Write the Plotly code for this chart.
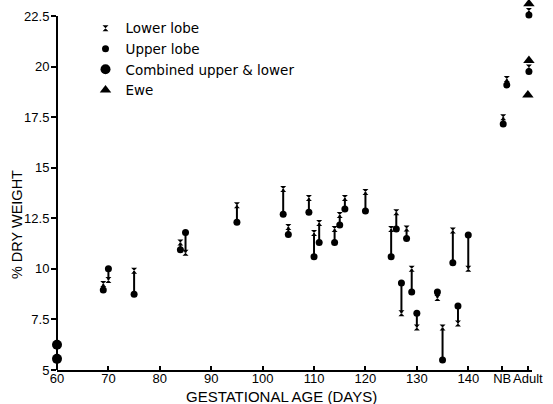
import plotly.graph_objects as go

# ---------------- data ----------------
days = [69, 70, 75, 84, 85, 95, 104, 105, 109, 110, 111, 114, 115, 116, 120,
        125, 126, 127, 128, 129, 130, 134, 135, 137, 138, 140]
lower_lobe = [9.25, 9.45, 9.9, 11.3, 10.8, 13.15, 13.95, 12.07, 13.5, 11.77, 12.27,
              11.97, 12.66, 13.5, 13.8, 11.97, 12.8, 7.8, 12.0, 10.0, 7.1, 8.56,
              7.1, 11.9, 7.3, 10.0]
upper_lobe = [8.95, 10.0, 8.75, 10.95, 11.8, 12.3, 12.7, 11.7, 12.8, 10.6, 11.3,
              11.3, 12.17, 12.96, 12.86, 10.6, 11.97, 9.3, 11.5, 8.86, 7.8, 8.86,
              5.5, 10.3, 8.16, 11.67]

nb_days = [146.8, 147.5]
nb_lower = [17.5, 19.38]
nb_upper = [17.16, 19.09]

adult_days = [151.8, 151.8]
adult_lower = [22.75, 19.95]
adult_upper = [22.55, 19.75]

ewe_days = [151.8, 151.8, 151.6]
ewe = [23.1, 20.3, 18.6]

combined_days = [60, 60]
combined = [6.25, 5.55]

x_tickvals = [60, 70, 80, 90, 100, 110, 120, 130, 140, 146.6, 151.6]
x_ticktext = ["60", "70", "80", "90", "100", "110", "120", "130", "140", "NB", "Adult"]
y_tickvals = [5, 7.5, 10, 12.5, 15, 17.5, 20, 22.5]
y_ticktext = ["5", "7.5", "10", "12.5", "15", "17.5", "20", "22.5"]

FONT = "Liberation Sans"
LEG_FONT = "DejaVu Sans"

# -------------- build -----------------
all_days = days + nb_days + adult_days
all_lower = lower_lobe + nb_lower + adult_lower
all_upper = upper_lobe + nb_upper + adult_upper

seg_x, seg_y = [], []
for d, lo, up in zip(all_days, all_lower, all_upper):
    seg_x += [d, d, None]
    seg_y += [lo, up, None]

fig = go.Figure()
fig.add_trace(go.Scatter(x=seg_x, y=seg_y, mode="lines",
                         line=dict(color="black", width=2),
                         showlegend=False, hoverinfo="skip", cliponaxis=False))
fig.add_trace(go.Scatter(x=all_days, y=all_lower, mode="markers", name="Lower lobe",
                         marker=dict(symbol="hourglass", size=6, color="black"),
                         cliponaxis=False))
fig.add_trace(go.Scatter(x=all_days, y=all_upper, mode="markers", name="Upper lobe",
                         marker=dict(symbol="circle", size=7, color="black"),
                         cliponaxis=False))
fig.add_trace(go.Scatter(x=combined_days, y=combined, mode="markers",
                         name="Combined upper &amp; lower",
                         marker=dict(symbol="circle", size=10, color="black"),
                         cliponaxis=False))
fig.add_trace(go.Scatter(x=ewe_days, y=ewe, mode="markers", name="Ewe",
                         marker=dict(symbol="triangle-up", size=10, color="black"),
                         cliponaxis=False))

Y_TOP = 22.5
fig.update_layout(
    width=553, height=404,
    margin=dict(l=57, r=21, t=0, b=34),
    paper_bgcolor="white", plot_bgcolor="white",
    font=dict(family=FONT, color="black", size=14),
    showlegend=True,
    legend=dict(x=0.06, y=0.965, xanchor="left", yanchor="top",
                font=dict(family=LEG_FONT, size=13.5, color="black"),
                bgcolor="rgba(0,0,0,0)", itemwidth=30, tracegroupgap=0),
    xaxis=dict(range=[60, 152.4], showline=True, linecolor="black", linewidth=2,
               ticks="inside", ticklen=4, tickwidth=1.5, tickcolor="black",
               tickvals=x_tickvals, ticktext=x_ticktext, showgrid=False,
               zeroline=False, tickangle=0, automargin=False,
               ticklabelstandoff=-5,
               tickfont=dict(size=13, family=FONT)),
    yaxis=dict(range=[5, 23.29], showline=False,
               ticks="outside", ticklen=5, tickwidth=1.5, tickcolor="black",
               tickvals=y_tickvals, ticktext=y_ticktext, showgrid=False,
               zeroline=False, automargin=False,
               ticklabelstandoff=-1,
               tickfont=dict(size=13, family=FONT)),
    shapes=[dict(type="line", xref="paper", yref="y", x0=0, x1=0, y0=5, y1=Y_TOP,
                 line=dict(color="black", width=2), layer="below")],
    annotations=[
        dict(text="GESTATIONAL AGE (DAYS)", xref="paper", yref="paper",
             x=0.472, y=-0.071, xanchor="center", yanchor="middle",
             showarrow=False, font=dict(size=15, family=FONT)),
        dict(text="% DRY WEIGHT", xref="paper", yref="paper",
             x=-0.084, y=0.392, xanchor="center", yanchor="middle",
             textangle=-90, showarrow=False, font=dict(size=14.5, family=FONT)),
    ],
)

fig.write_html("out.html", config={"displayModeBar": False})

# remove the default page margin so the figure sits at the window's corner
with open("out.html", "r", encoding="utf-8") as f:
    html = f.read()
html = html.replace("<head>", "<head><style>html,body{margin:0;padding:0;overflow:hidden;}</style>", 1)
with open("out.html", "w", encoding="utf-8") as f:
    f.write(html)
